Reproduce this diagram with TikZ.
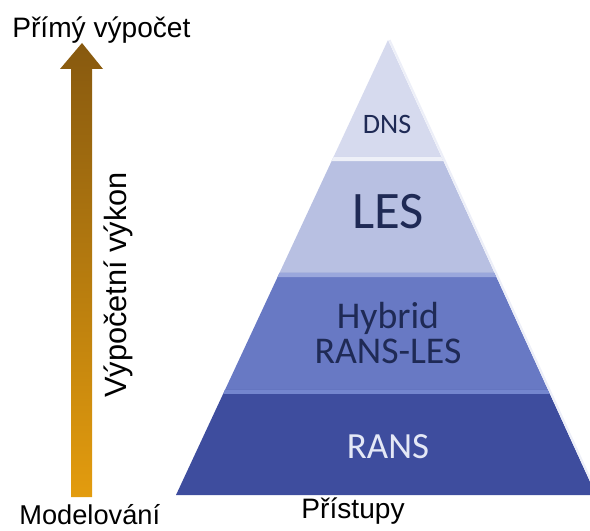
\documentclass[tikz,border=0pt]{standalone}
\usepackage{fontspec}
\setmainfont{Liberation Sans}
\newfontfamily\calibri{Carlito}
\usepackage{xcolor}
\usepackage{tikz}
\usetikzlibrary{calc}
\definecolor{dnsbarva}{HTML}{D6DAEE}
\definecolor{lesbarva}{HTML}{B8C0E2}
\definecolor{hybbarva}{HTML}{6879C4}
\definecolor{ransbarva}{HTML}{3E4D9E}
\definecolor{leshrana}{HTML}{EEF0F8}
\definecolor{hybhrana}{HTML}{9AA7DC}
\definecolor{ranshrana}{HTML}{7486CE}
\definecolor{textmodra}{HTML}{1F2A55}
\definecolor{textsvetla}{HTML}{E4E8F6}
\definecolor{sipkahore}{HTML}{87590F}
\definecolor{sipkadole}{HTML}{E39C0E}
\tikzset{
  popisek/.style={font=\fontsize{16}{19}\selectfont, text=black, inner sep=0pt},
  vrstva/.style={font=\calibri, align=center, inner sep=0pt}
}

\begin{document}
\begin{tikzpicture}[x=0.02cm,y=-0.02cm]
        %RAMEC
        \useasboundingbox (0,0) rectangle (590,530);
        \clip (0,0) rectangle (590,530);
        %KOORDINAT
        \coordinate (V) at (388,40);
        \coordinate (L) at (176,495);
        \coordinate (R) at (596,495);
        \coordinate (L1) at ($(V)!0.257!(L)$);
        \coordinate (R1) at ($(V)!0.257!(R)$);
        \coordinate (L2) at ($(V)!0.512!(L)$);
        \coordinate (R2) at ($(V)!0.512!(R)$);
        \coordinate (L3) at ($(V)!0.769!(L)$);
        \coordinate (R3) at ($(V)!0.769!(R)$);

        %PYRAMIDA
        \fill[dnsbarva] (V) -- (R1) -- (L1) -- cycle;
        \fill[lesbarva] (L1) -- (R1) -- (R2) -- (L2) -- cycle;
        \fill[hybbarva] (L2) -- (R2) -- (R3) -- (L3) -- cycle;
        \fill[ransbarva] (L3) -- (R3) -- (R) -- (L) -- cycle;
        %HRANY VRSTEV
        \fill[leshrana] (L1) -- (R1) -- ($(V)!0.266!(R)$) -- ($(V)!0.266!(L)$) -- cycle;
        \fill[hybhrana] (L2) -- (R2) -- ($(V)!0.521!(R)$) -- ($(V)!0.521!(L)$) -- cycle;
        \fill[ranshrana] (L3) -- (R3) -- ($(V)!0.778!(R)$) -- ($(V)!0.778!(L)$) -- cycle;
        \draw[white!75!lesbarva, line width=1.2pt] ($(V)+(1.5,0)$) -- ($(R)+(1.5,0)$);

        %TEXTY VRSTEV
        \node[vrstva, text=textmodra, font=\calibri\fontsize{16}{19}\selectfont] (dns) at (387,124) {DNS};
        \node[vrstva, text=textmodra, font=\calibri\fontsize{30}{34}\selectfont] (les) at (388,212) {LES};
        \node[vrstva, text=textmodra, font=\calibri\fontsize{21.5}{20}\selectfont] (hybrid) at (388,333) {Hybrid\\RANS-LES};
        \node[vrstva, text=textsvetla, font=\calibri\fontsize{21}{24}\selectfont] (rans) at (388,447) {RANS};

        %SIPKA
        \shade[top color=sipkahore, bottom color=sipkadole] (71,497) -- (71,69) -- (60,69) -- (82,43) -- (103,69) -- (92,69) -- (92,497) -- cycle;

        %POPISKY
        \node[popisek, anchor=base west] (primy) at (12,38) {Přímý výpočet};
        \node[popisek, anchor=base west, font=\fontsize{15.5}{19}\selectfont] (model) at (19,524) {Modelování};
        \node[popisek, anchor=base] (pristupy) at (353,518) {Přístupy};
        \node[popisek, rotate=90, font=\fontsize{17.5}{20}\selectfont] (vykon) at (118,285) {Výpočetní výkon};

    \end{tikzpicture}
\end{document}
